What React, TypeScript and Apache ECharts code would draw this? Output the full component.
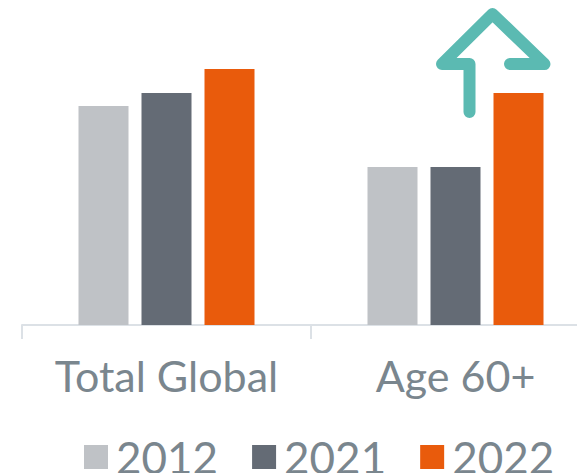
import React, { useEffect, useRef } from "react";
import * as echarts from "echarts";

const categories = ["Total Global", "Age 60+"];
const seriesNames = ["2012", "2021", "2022"];
const values2012 = [43.8, 31.6];
const values2021 = [46.4, 31.6];
const values2022 = [51.2, 46.4];
const colors = ["#BFC2C6", "#646B75", "#E95B0C"];

export default function App() {
  const ref = useRef<HTMLDivElement>(null);
  useEffect(() => {
    if (!ref.current) return;
    const chart = echarts.init(ref.current, null, { renderer: "svg" });
    const data = [values2012, values2021, values2022];
    chart.setOption({
      animation: false,
      backgroundColor: "#ffffff",
      textStyle: { fontFamily: "Lato" },
      grid: { left: 22, top: 0, width: 578, height: 325, outerBoundsMode: "none", containLabel: false },
      legend: {
        data: seriesNames,
        left: 84,
        top: 435,
        padding: 0,
        itemWidth: 24,
        itemHeight: 24,
        itemGap: 34,
        icon: "rect",
        textStyle: { fontSize: 44, color: "#7A868E", fontFamily: "Lato", padding: [0, 0, 0, 3] },
      },
      xAxis: {
        type: "category",
        data: categories,
        axisLine: { lineStyle: { color: "#DCE1E6", width: 2 } },
        axisTick: { show: true, length: 14, lineStyle: { color: "#DCE1E6", width: 2 } },
        axisLabel: { fontSize: 43, color: "#7A868E", fontFamily: "Lato", margin: 29, interval: 0 },
      },
      yAxis: {
        type: "value",
        min: 0,
        max: 65,
        show: false,
        splitLine: { show: false },
      },
      series: seriesNames.map((name, i) => ({
        name,
        type: "bar",
        data: data[i],
        barWidth: 50,
        barGap: "26%",
        itemStyle: { color: colors[i] },
      })),
      graphic: [
        {
          type: "polyline",
          shape: {
            points: [
              [469.5, 112],
              [469.5, 64],
              [442, 64],
              [492.5, 14],
              [544.5, 64],
              [510, 64],
            ],
          },
          style: {
            stroke: "#5BBAB2",
            lineWidth: 12,
            fill: "none",
            lineCap: "round",
            lineJoin: "round",
          },
        },
      ],
    });
    return () => chart.dispose();
  }, []);
  return <div ref={ref} style={{ width: 577, height: 473, position: "absolute", left: 0, top: 0 }} />;
}
